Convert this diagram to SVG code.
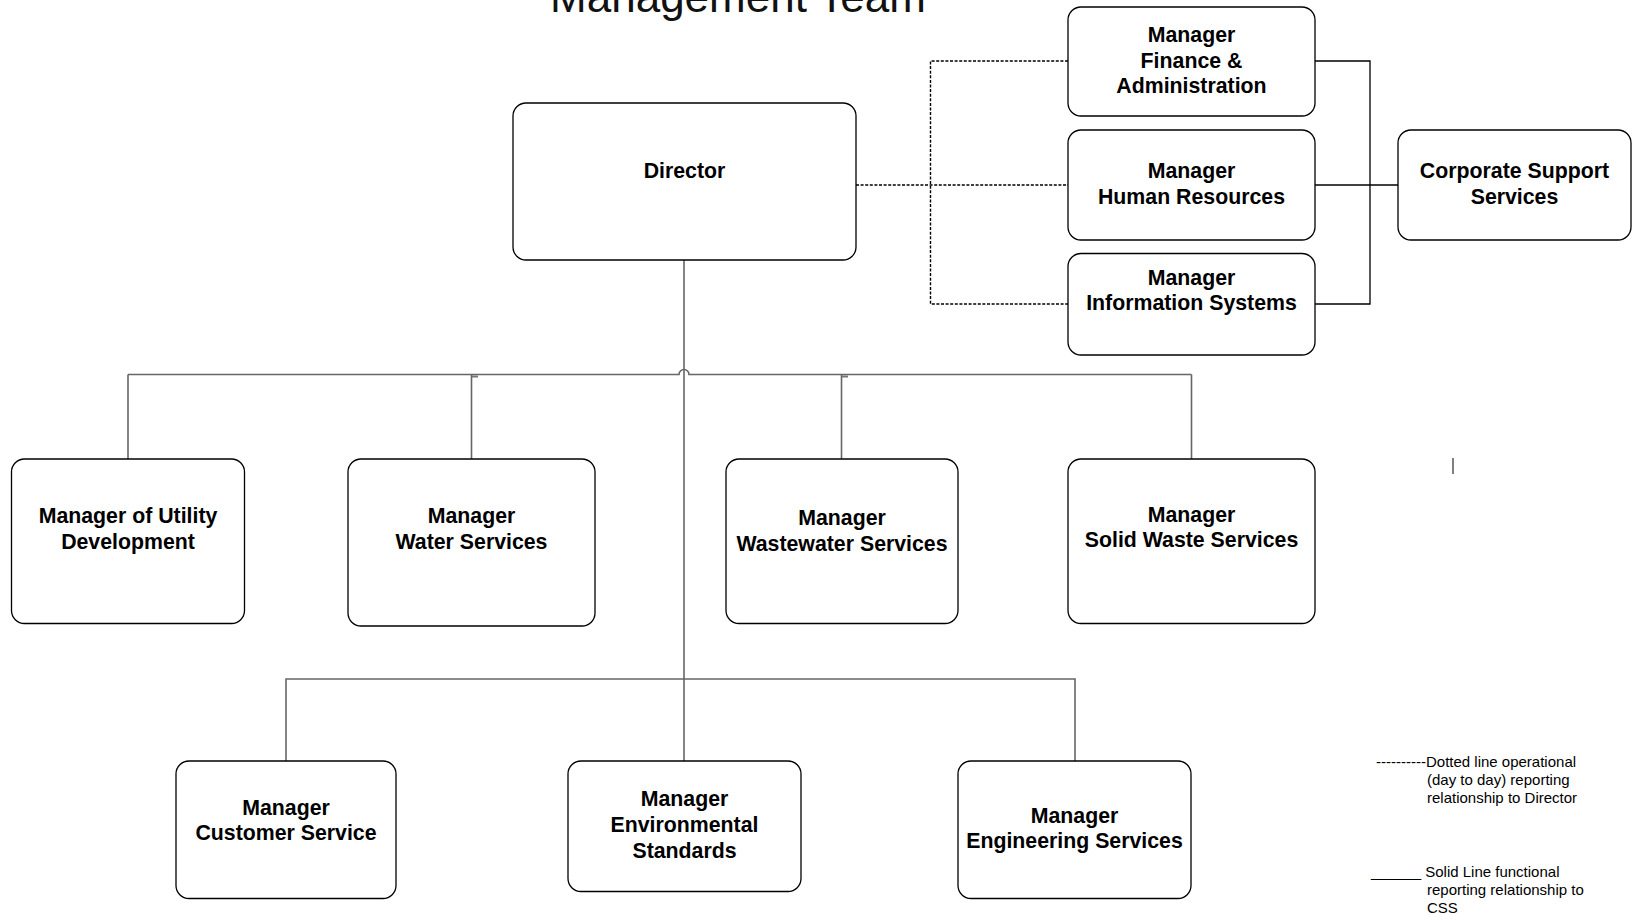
<svg xmlns="http://www.w3.org/2000/svg" width="1637" height="914" viewBox="0 0 1637 914">
<style>
.box{fill:#fff;stroke:#000;stroke-width:1.3}
.t{font-family:"Liberation Sans",Arial,sans-serif;font-weight:bold;font-size:21.3px;fill:#000;text-anchor:middle}
.title{font-family:"Liberation Sans",Arial,sans-serif;font-size:44px;fill:#111;text-anchor:middle}
.leg{font-family:"Liberation Sans",Arial,sans-serif;font-size:15px;fill:#000}
.solid{fill:none;stroke:#000;stroke-width:1.3}
.gray{fill:none;stroke:#666;stroke-width:1.6}
.dot{fill:none;stroke:#000;stroke-width:1.4;stroke-dasharray:3 1.6}
</style>
<rect width="1637" height="914" fill="#fff"/>
<text class="title" x="738" y="12.3">Management  Team</text>

<g id="connectors">
  <!-- dotted operational lines -->
  <path class="dot" d="M856 185 H1068"/>
  <path class="dot" d="M1068 61 H930.5 V304 H1068"/>
  <!-- solid functional lines to CSS -->
  <path class="solid" d="M1315 61 H1370 V304 H1315"/>
  <path class="solid" d="M1315 185 H1398"/>
  <!-- trunk -->
  <path class="gray" d="M684 260 V761"/>
  <!-- upper bus with jump -->
  <path class="gray" d="M128 374.5 H679 A5 5 0 0 1 689 374.5 H1191.5"/>
  <path class="gray" d="M128 374.5 V459"/>
  <path class="gray" d="M471.5 374.5 V459"/>
  <path class="gray" d="M841.5 374.5 V459"/>
  <path class="gray" d="M1191.5 374.5 V459"/>
  <path stroke="#777" stroke-width="2" d="M472 376.5 H478 M842 376.5 H848"/>
  <!-- lower bus -->
  <path class="gray" d="M286 761 V679 H1075 V761"/>
</g>

<g id="director"><rect class="box" x="513" y="103" width="343" height="157" rx="13"/><text class="t" x="684.5" y="177.5">Director</text></g>
<g id="finance"><rect class="box" x="1068" y="7" width="247" height="109" rx="13"/><text class="t" x="1191.5" y="42">Manager</text><text class="t" x="1191.5" y="67.5">Finance &amp;</text><text class="t" x="1191.5" y="93">Administration</text></g>
<g id="hr"><rect class="box" x="1068" y="130" width="247" height="110" rx="13"/><text class="t" x="1191.5" y="177.5">Manager</text><text class="t" x="1191.5" y="203.5">Human Resources</text></g>
<g id="is"><rect class="box" x="1068" y="253.5" width="247" height="101.5" rx="13"/><text class="t" x="1191.5" y="285">Manager</text><text class="t" x="1191.5" y="310">Information Systems</text></g>
<g id="css"><rect class="box" x="1398" y="130" width="233" height="110" rx="13"/><text class="t" x="1514.5" y="177.5">Corporate Support</text><text class="t" x="1514.5" y="203.5">Services</text></g>

<g id="utility"><rect class="box" x="11.5" y="459" width="233" height="164.5" rx="13"/><text class="t" x="128" y="523">Manager of Utility</text><text class="t" x="128" y="549">Development</text></g>
<g id="water"><rect class="box" x="348" y="459" width="247" height="167" rx="13"/><text class="t" x="471.5" y="523">Manager</text><text class="t" x="471.5" y="549">Water Services</text></g>
<g id="wastewater"><rect class="box" x="726" y="459" width="232" height="164.5" rx="13"/><text class="t" x="842" y="525">Manager</text><text class="t" x="842" y="551">Wastewater Services</text></g>
<g id="solidwaste"><rect class="box" x="1068" y="459" width="247" height="164.5" rx="13"/><text class="t" x="1191.5" y="522">Manager</text><text class="t" x="1191.5" y="547">Solid Waste Services</text></g>

<g id="customer"><rect class="box" x="176" y="761" width="220" height="137.5" rx="13"/><text class="t" x="286" y="814.5">Manager</text><text class="t" x="286" y="839.5">Customer Service</text></g>
<g id="environmental"><rect class="box" x="568" y="761" width="233" height="130.5" rx="13"/><text class="t" x="684.5" y="806">Manager</text><text class="t" x="684.5" y="832">Environmental</text><text class="t" x="684.5" y="858">Standards</text></g>
<g id="engineering"><rect class="box" x="958" y="761" width="233" height="137.5" rx="13"/><text class="t" x="1074.5" y="823">Manager</text><text class="t" x="1074.5" y="848">Engineering Services</text></g>

<path stroke="#555" stroke-width="1.5" d="M1453 458 V474"/>

<g id="legend">
  <text class="leg" x="1376" y="767">----------Dotted line operational</text>
  <text class="leg" x="1427" y="785">(day to day) reporting</text>
  <text class="leg" x="1427" y="803">relationship to Director</text>
  <text class="leg" x="1371" y="877">______ Solid Line functional</text>
  <text class="leg" x="1427" y="895">reporting relationship to</text>
  <text class="leg" x="1427" y="913">CSS</text>
</g>
</svg>
